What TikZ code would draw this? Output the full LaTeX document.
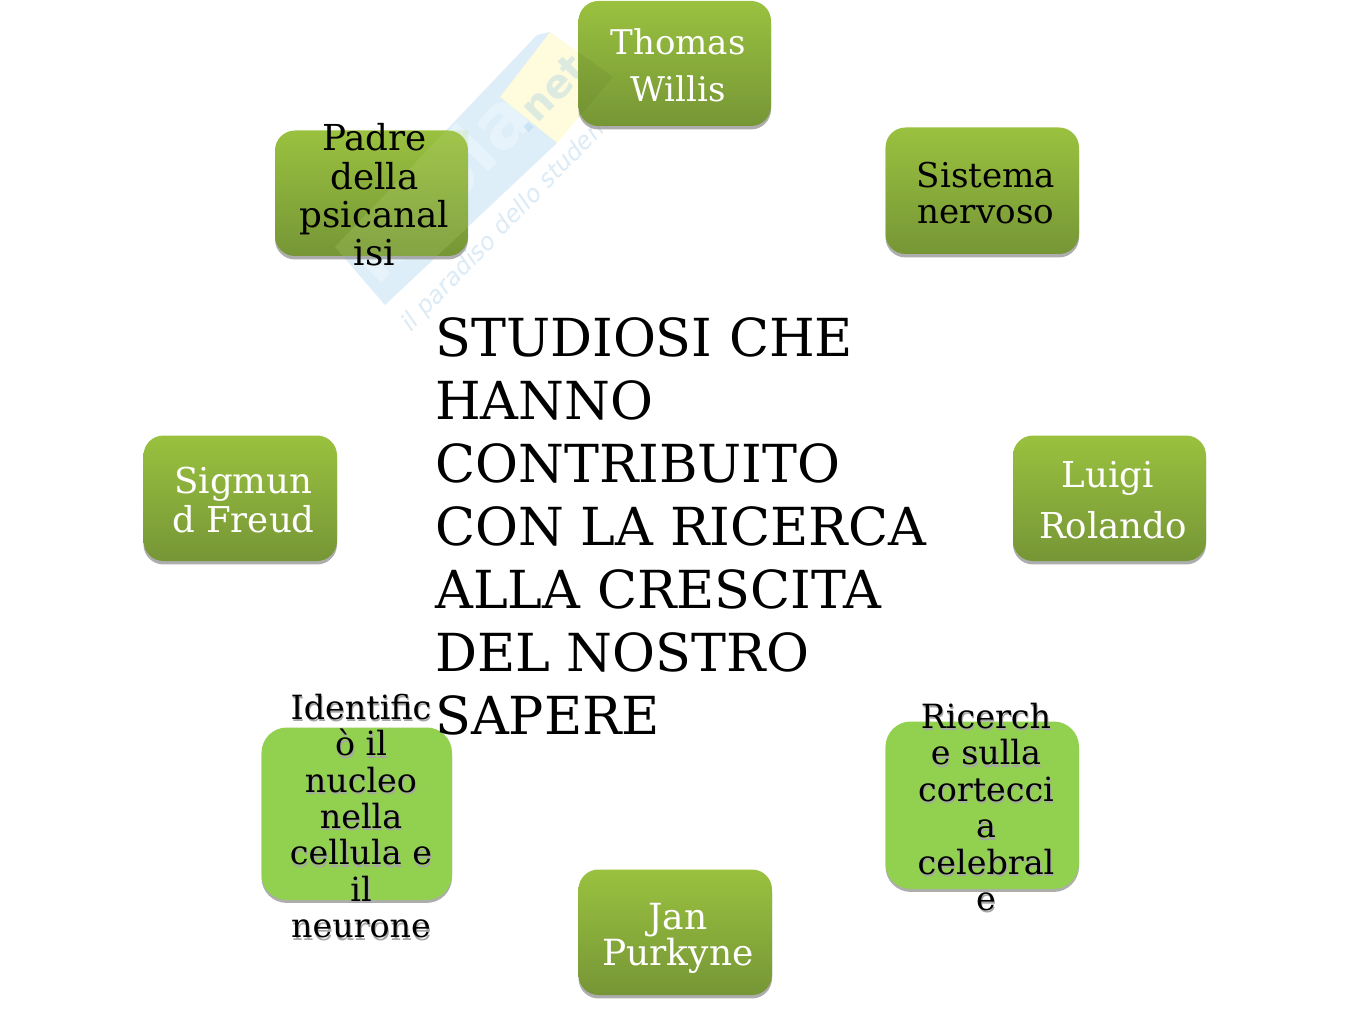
\documentclass[tikz,border=0pt]{standalone}
\usepackage{fontspec}
\setmainfont{DejaVu Serif}
\newfontfamily\wmfont{DejaVu Sans}
\usetikzlibrary{shadows}
\definecolor{gtop}{HTML}{9AC13F}
\definecolor{gbot}{HTML}{769636}
\definecolor{flatg}{HTML}{92D050}
\definecolor{wmblue}{HTML}{8CC4EA}
\definecolor{wmyel}{HTML}{FFF27A}
\definecolor{wmtext}{HTML}{DCEBF6}
\newcommand{\sz}[2]{\fontsize{#1pt}{#2pt}\selectfont}
\tikzset{
  x=0.75pt,y=-0.75pt,
  card/.style={rounded corners=15pt,top color=gtop,bottom color=gbot,draw=none,
    drop shadow={shadow xshift=0pt,shadow yshift=-2.6pt,fill=black!40,opacity=.8}},
  flatcard/.style={rounded corners=19pt,fill=flatg,draw=none,
    drop shadow={shadow xshift=0pt,shadow yshift=-2.2pt,fill=black!40,opacity=.8}},
  lab/.style={align=center,inner sep=0pt},
  labw/.style={lab,text=white},
  shade text/.style={lab,text=black!35},
  title/.style={align=left,inner sep=0pt,anchor=north west,font=\sz{39.3}{47.2}},
}
\newcommand{\bx}[6]{\path[#6] (#2,#3) rectangle (#4,#5);\coordinate (#1) at ({(#2+#4)/2},{(#3+#5)/2});}
\begin{document}
\begin{tikzpicture}
\useasboundingbox (0,0) rectangle (1350,1013);
\fill[white] (0,0) rectangle (1350,1013);
% watermark under the boxes
\fill[wmblue,opacity=.28] (537,35) -- (335,247) -- (385,305) -- (557,143) -- (500,97) -- (550,32) -- cycle;
\fill[wmyel,opacity=.25] (550,32) -- (613,77) -- (557,143) -- (500,97) -- cycle;
\node[rotate=46,text=wmtext,font=\wmfont\itshape\sz{18}{18},inner sep=0pt] (w) at (512,218) {il paradiso dello studente};
\node[rotate=46,text=white,opacity=.3,font=\wmfont\bfseries\sz{56}{56},inner sep=0pt] (w2) at (437,185) {kuola};
\node[rotate=46,text=wmblue,opacity=.3,font=\wmfont\bfseries\sz{30}{30},inner sep=0pt] (w3) at (548,94) {.net};
% boxes
\bx{a}{578.5}{1}{771}{126}{card}
\bx{b}{885.5}{127.5}{1079}{254}{card}
\bx{c}{1013}{435.5}{1206}{561}{card}
\bx{d}{885.5}{721.5}{1079}{889}{flatcard}
\bx{e}{578.5}{869.5}{772}{995}{card}
\bx{f}{261.5}{727.5}{452}{900}{flatcard}
\bx{g}{143.5}{435.5}{337}{561}{card}
\bx{h}{275}{130.5}{468}{256}{card}
% faint watermark tint over the boxes
\begin{scope}
\clip (275,130.5) rectangle (468,256) (578.5,1) rectangle (771,126);
\fill[gtop!70!white,opacity=.22] (537,35) -- (335,247) -- (385,305) -- (557,143) -- (500,97) -- (550,32) -- cycle;
\fill[gbot!70!black,opacity=.12] (550,32) -- (613,77) -- (557,143) -- (500,97) -- cycle;
\end{scope}
% labels
\node[labw,font=\sz{25.5}{27.5}] (ta) at (678,65) {Thomas\\[8pt]Willis};
\node[lab,font=\sz{25.6}{27.5}] (tb) at (986,193) {Sistema\\nervoso};
\node[labw,font=\sz{26.7}{27.5}] (tc) at (1113,500) {Luigi\hspace*{7.5pt}\\[11pt]Rolando};
\node[lab,shade text,font=\sz{25}{27.3}] (tds) at (987,809.5) {Ricerch\\e sulla\hspace*{8pt}\\cortecci\\a\\celebral\\e};
\node[lab,font=\sz{25}{27.3}] (td) at (986,807) {Ricerch\\e sulla\hspace*{8pt}\\cortecci\\a\\celebral\\e};
\node[labw,font=\sz{27}{27.5}] (te) at (678,938.5) {Jan\\Purkyne};
\node[lab,shade text,font=\sz{25}{27.3}] (tfs) at (362,818.5) {Identific\\ò il\\nucleo\\nella\\cellula e\\il\\neurone};
\node[lab,font=\sz{25}{27.3}] (tf) at (361,816) {Identific\\ò il\\nucleo\\nella\\cellula e\\il\\neurone};
\node[labw,font=\sz{26.7}{28.9}] (tg) at (243.5,500) {Sigmun\\d Freud};
\node[lab,font=\sz{26.8}{28.8}] (th) at (374.5,195) {Padre\\della\\psicanal\\isi};
\node[title] (t) at (435,317.5) {STUDIOSI CHE\\HANNO\\CONTRIBUITO\\CON LA RICERCA\\ALLA CRESCITA\\DEL NOSTRO\\SAPERE};
\end{tikzpicture}
\end{document}
